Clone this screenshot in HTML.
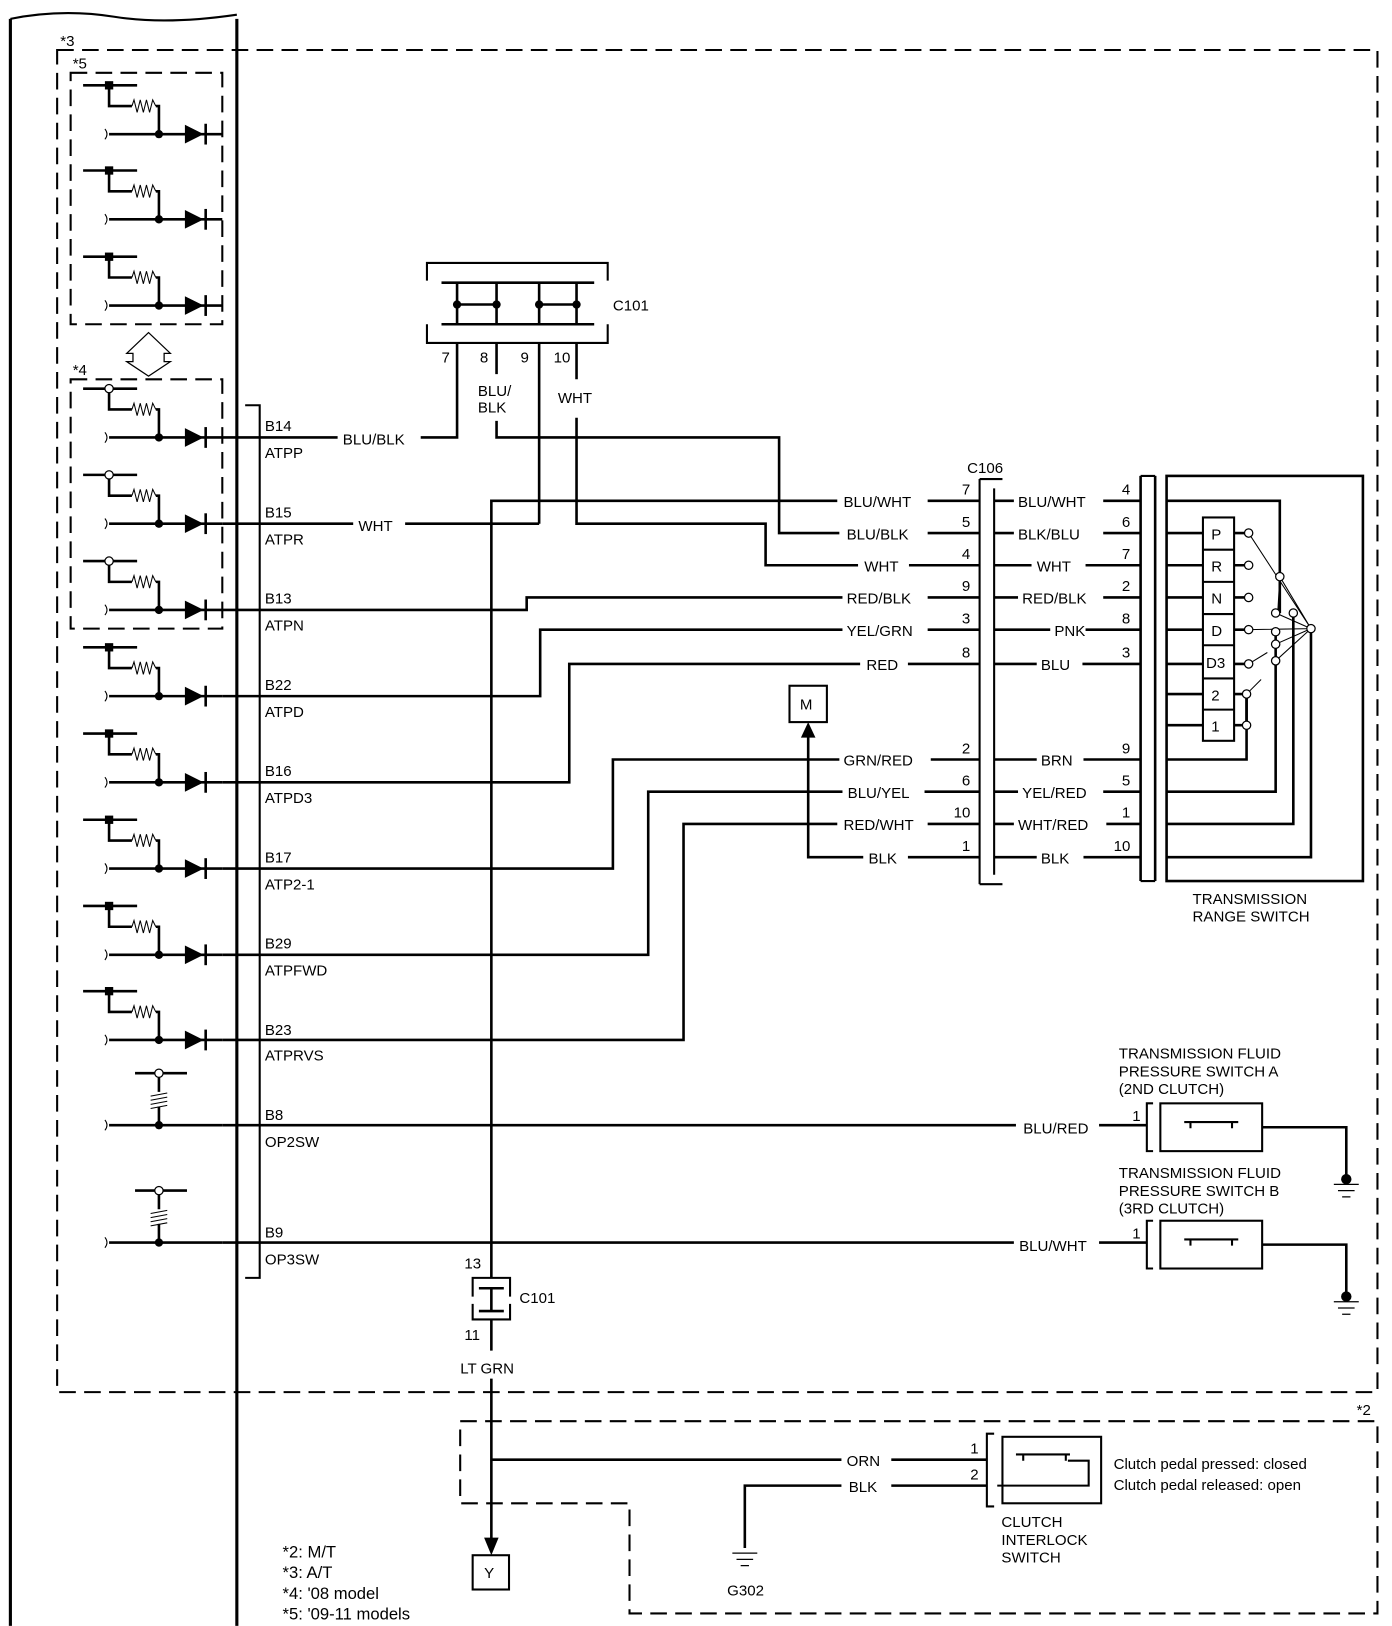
<!DOCTYPE html>
<html><head><meta charset="utf-8"><style>
html,body{margin:0;padding:0;background:#fff}
svg{display:block}
text{font-family:"Liberation Sans",Arial,sans-serif;font-size:14.5px;fill:#000}
</style></head><body>
<svg id="s" width="1392" height="1626" viewBox="0 0 1340 1565" xmlns="http://www.w3.org/2000/svg">
<g fill="none" stroke="#000" stroke-width="2.5" id="g">
<path d="M10 18V1565M228 18V1565" stroke-width="3"/>
<path d="M10 18Q60 8 110 16T228 14" stroke-width="2"/>
<g stroke-dasharray="16,8" stroke-width="2">
<rect x="55" y="48" width="1271" height="1292"/>
<rect x="68" y="70" width="146" height="242"/>
<rect x="68" y="365" width="146" height="240"/>
<path d="M443 1368H1326V1553H606V1447H443Z"/>
</g>
<path d="M143 320L122 340H128V348H122L143 362L164 348H158V340H164Z" stroke-width="1.2"/>
<path d="M236 390H250V1230H236" stroke-width="2"/>
<path d="M411 270V253H585V270M411 312V330H585V312" stroke-width="2"/>
<path d="M425 272H572M425 312H572M440 272V312M478 272V312M519 272V312M555 272V312M440 293H478M519 293H555"/>
<path d="M405 421H440V330M478 330V360M478 405V421H750V513H808M519 330V504M555 330V365M555 402V504H737V544H826M214 504H340M390 504H519"/>
<path d="M473 1230V482H806M214 587H507V575H811M214 670H520V606H811M214 753H548V639H828M214 836H590V731H808M214 919H624V762H811M214 1001H658V793H806M778 700V825H831"/>
<path d="M214 421H325" /><path d="M214 1083H978M214 1196H976"/>
<path d="M893 482H943M893 513H943M875 544H943M893 575H943M893 606H943M874 639H943M896 731H943M890 762H943M893 793H943M874 825H943"/>
<path d="M943 461V851M943 461H965M943 851H965" stroke-width="2"/>
<path d="M957 470V842" stroke-width="2"/>
<path d="M957 482H976M957 513H976M957 544H993M957 575H980M957 606H1011M957 639H998M957 731H998M957 762H980M957 793H976M957 825H998"/>
<path d="M1062 482H1098M1062 513H1098M1045 544H1098M1062 575H1098M1045 606H1098M1042 639H1098M1043 731H1098M1062 762H1098M1065 793H1098M1043 825H1098"/>
<path d="M1098 458V848M1112 458V848" stroke-width="2.5"/>
<path d="M1112 458H1098M1112 848H1098" stroke-width="2"/>
<rect x="1123" y="458" width="189" height="390" stroke-width="2.5"/>
<path d="M1123 482H1232V590M1123 513H1158M1123 544H1158M1123 575H1158M1123 606H1158M1123 639H1158M1123 668H1158M1123 698H1158"/>
<path d="M1123 731H1200V668M1123 762H1228V604M1123 793H1245V590M1123 825H1262V605"/>
<rect x="1158" y="498" width="30" height="215" stroke-width="2"/>
<path d="M1158 529H1188M1158 560H1188M1158 591H1188M1158 621H1188M1158 653H1188M1158 683H1188" stroke-width="2"/>
<path d="M1188 513H1202M1188 544H1202M1188 575H1202M1188 606H1202M1188 639H1202M1188 668H1200M1188 698H1200" />
<path d="M1202 513L1262 605M1232 555L1262 605M1228 590L1262 605M1202 606L1262 605M1228 620L1262 605M1228 636L1262 605M1202 639L1220 628M1200 668L1214 654M1232 555L1230 590" stroke-width="1"/>
<path d="M1200 668V698" stroke-width="2.5"/>
<rect x="760" y="660" width="36" height="35" stroke-width="2"/>
<path d="M1058 1083H1104M1058 1196H1104"/>
<path d="M1110 1062H1104V1108H1110M1110 1175H1104V1221H1110" stroke-width="2"/>
<rect x="1117" y="1062" width="98" height="46" stroke-width="2"/>
<rect x="1117" y="1175" width="98" height="46" stroke-width="2"/>
<path d="M1140 1080H1192M1140 1193H1192M1146 1080V1086M1186 1080V1086M1146 1193V1199M1186 1193V1199" stroke-width="2"/>
<path d="M1215 1085H1296V1135M1215 1198H1296V1248"/>
<path d="M1284 1140H1308M1288 1146H1304M1292 1152H1300M1284 1253H1308M1288 1259H1304M1292 1265H1300" stroke-width="1.2"/>
<path d="M455 1248V1230H491V1248M455 1255V1270H491V1255" stroke-width="2"/>
<path d="M461 1240H485M461 1262H485M473 1240V1262"/>
<path d="M473 1270V1300M473 1327V1490"/>
<path d="M473 1405H810M858 1405H950M717 1490V1430H810M858 1430H950"/>
<path d="M957 1380H950V1450H957" stroke-width="2"/>
<rect x="965" y="1383" width="95" height="64" stroke-width="2"/>
<path d="M978 1400H1030M985 1400V1406M1026 1400V1406M1028 1406H1048V1430H960" stroke-width="2"/>
<path d="M705 1495H729M709 1501H725M713 1507H721" stroke-width="1.2"/>
<rect x="455" y="1497" width="35" height="33" stroke-width="2"/>
</g>
<g fill="#000">
<path d="M473 1497L466 1480H480Z"/>
<path d="M778 695L771 710H785Z"/>
<circle cx="440" cy="293" r="4"/><circle cx="478" cy="293" r="4"/><circle cx="519" cy="293" r="4"/><circle cx="555" cy="293" r="4"/>
<circle cx="1296" cy="1135" r="5"/><circle cx="1296" cy="1248" r="5"/>
</g>
<g fill="#fff" stroke="#000" stroke-width="1.2">
<circle cx="1202" cy="513" r="4"/><circle cx="1202" cy="544" r="4"/><circle cx="1202" cy="575" r="4"/><circle cx="1202" cy="606" r="4"/><circle cx="1202" cy="639" r="4"/><circle cx="1200" cy="668" r="4"/><circle cx="1200" cy="698" r="4"/>
<circle cx="1232" cy="555" r="4"/><circle cx="1228" cy="590" r="4"/><circle cx="1245" cy="590" r="4"/><circle cx="1262" cy="605" r="4"/><circle cx="1228" cy="608" r="4"/><circle cx="1228" cy="620" r="4"/><circle cx="1228" cy="636" r="4"/>
</g>
<g id="units"></g>
<g>
<text x="58" y="44">*3</text><text x="70" y="66">*5</text><text x="70" y="361">*4</text>
<text x="255" y="415">B14</text><text x="255" y="441">ATPP</text>
<text x="255" y="498">B15</text><text x="255" y="524">ATPR</text>
<text x="255" y="581">B13</text><text x="255" y="607">ATPN</text>
<text x="255" y="664">B22</text><text x="255" y="690">ATPD</text>
<text x="255" y="747">B16</text><text x="255" y="773">ATPD3</text>
<text x="255" y="830">B17</text><text x="255" y="856">ATP2-1</text>
<text x="255" y="913">B29</text><text x="255" y="939">ATPFWD</text>
<text x="255" y="996">B23</text><text x="255" y="1021">ATPRVS</text>
<text x="255" y="1078">B8</text><text x="255" y="1104">OP2SW</text>
<text x="255" y="1191">B9</text><text x="255" y="1217">OP3SW</text>
<text x="330" y="428">BLU/BLK</text><text x="345" y="511">WHT</text>
<text x="590" y="299">C101</text>
<text x="425" y="349">7</text><text x="462" y="349">8</text><text x="501" y="349">9</text><text x="533" y="349">10</text>
<text x="460" y="381">BLU/</text><text x="460" y="397">BLK</text><text x="537" y="388">WHT</text>
<text x="931" y="455">C106</text>
<text x="812" y="488">BLU/WHT</text><text x="815" y="519">BLU/BLK</text><text x="832" y="550">WHT</text><text x="815" y="581">RED/BLK</text><text x="815" y="612">YEL/GRN</text><text x="834" y="645">RED</text>
<text x="812" y="737">GRN/RED</text><text x="816" y="768">BLU/YEL</text><text x="812" y="799">RED/WHT</text><text x="836" y="831">BLK</text>
<text x="926" y="476">7</text><text x="926" y="507">5</text><text x="926" y="538">4</text><text x="926" y="569">9</text><text x="926" y="600">3</text><text x="926" y="633">8</text><text x="926" y="725">2</text><text x="926" y="756">6</text><text x="918" y="787">10</text><text x="926" y="819">1</text>
<text x="980" y="488">BLU/WHT</text><text x="980" y="519">BLK/BLU</text><text x="998" y="550">WHT</text><text x="984" y="581">RED/BLK</text><text x="1015" y="612">PNK</text><text x="1002" y="645">BLU</text>
<text x="1002" y="737">BRN</text><text x="984" y="768">YEL/RED</text><text x="980" y="799">WHT/RED</text><text x="1002" y="831">BLK</text>
<text x="1080" y="476">4</text><text x="1080" y="507">6</text><text x="1080" y="538">7</text><text x="1080" y="569">2</text><text x="1080" y="600">8</text><text x="1080" y="633">3</text><text x="1080" y="725">9</text><text x="1080" y="756">5</text><text x="1080" y="787">1</text><text x="1072" y="819">10</text>
<text x="1166" y="519">P</text><text x="1166" y="550">R</text><text x="1166" y="581">N</text><text x="1166" y="612">D</text><text x="1161" y="643">D3</text><text x="1166" y="674">2</text><text x="1166" y="704">1</text>
<text x="770" y="683">M</text>
<text x="1148" y="870">TRANSMISSION</text><text x="1148" y="887">RANGE SWITCH</text>
<text x="1077" y="1019">TRANSMISSION FLUID</text><text x="1077" y="1036">PRESSURE SWITCH A</text><text x="1077" y="1053">(2ND CLUTCH)</text>
<text x="1077" y="1134">TRANSMISSION FLUID</text><text x="1077" y="1151">PRESSURE SWITCH B</text><text x="1077" y="1168">(3RD CLUTCH)</text>
<text x="985" y="1091">BLU/RED</text><text x="981" y="1204">BLU/WHT</text>
<text x="1090" y="1079">1</text><text x="1090" y="1192">1</text>
<text x="447" y="1221">13</text><text x="447" y="1290">11</text><text x="500" y="1254">C101</text>
<text x="443" y="1322">LT GRN</text>
<text x="1306" y="1362">*2</text>
<text x="815" y="1411">ORN</text><text x="817" y="1436">BLK</text>
<text x="934" y="1399">1</text><text x="934" y="1424">2</text>
<text x="1072" y="1414">Clutch pedal pressed: closed</text><text x="1072" y="1434">Clutch pedal released: open</text>
<text x="964" y="1470">CLUTCH</text><text x="964" y="1487">INTERLOCK</text><text x="964" y="1504">SWITCH</text>
<text x="700" y="1536">G302</text>
<text x="466" y="1519">Y</text>
<text x="272" y="1499" style="font-size:16px">*2: M/T</text><text x="272" y="1519" style="font-size:16px">*3: A/T</text><text x="272" y="1539" style="font-size:16px">*4: '08 model</text><text x="272" y="1559" style="font-size:16px">*5: '09-11 models</text>
</g>
</svg>
<script>
var u=document.getElementById('units'),h='';
function unit(y,open){var t=y-47;
h+='<path d="M80 '+t+'H132M105 '+t+'V'+(t+20)+'H127M150 '+(t+20)+'H153V'+y+'M105 '+y+'H214" fill="none" stroke="#000" stroke-width="2.5"/>';
h+='<path d="M127 '+(t+20)+'l2 -6 3 12 3 -12 3 12 3 -12 3 12 3 -12 3 6" fill="none" stroke="#000" stroke-width="1"/>';
h+='<path d="M101 '+(y-5)+'q4 5 0 10" fill="none" stroke="#000" stroke-width="1"/>';
h+='<circle cx="153" cy="'+y+'" r="4"/><path d="M178 '+(y-9)+'L196 '+y+'L178 '+(y+9)+'Z"/><path d="M198 '+(y-10)+'V'+(y+10)+'" stroke="#000" stroke-width="2.5"/>';
if(open)h+='<circle cx="105" cy="'+t+'" r="4" fill="#fff" stroke="#000" stroke-width="1.2"/>';else h+='<rect x="101" y="'+(t-4)+'" width="8" height="8"/>';}
[129,211,294].forEach(function(y){unit(y,0)});
[421,504,587].forEach(function(y){unit(y,1)});
[670,753,836,919,1001].forEach(function(y){unit(y,0)});
[1083,1196].forEach(function(y){var t=y-50;
h+='<path d="M130 '+t+'H180M153 '+t+'V'+(t+18)+'M153 '+(y-18)+'V'+y+'M105 '+y+'H214" fill="none" stroke="#000" stroke-width="2.5"/>';
h+='<path d="M145 '+(t+22)+'l16 -3M145 '+(t+26)+'l16 -3M145 '+(t+30)+'l16 -3M145 '+(t+34)+'l16 -3" stroke="#000" stroke-width="1"/>';
h+='<path d="M101 '+(y-5)+'q4 5 0 10" fill="none" stroke="#000" stroke-width="1"/><circle cx="153" cy="'+y+'" r="4"/><circle cx="153" cy="'+t+'" r="4" fill="#fff" stroke="#000" stroke-width="1.2"/>';});
u.innerHTML=h;
</script>
</body></html>
